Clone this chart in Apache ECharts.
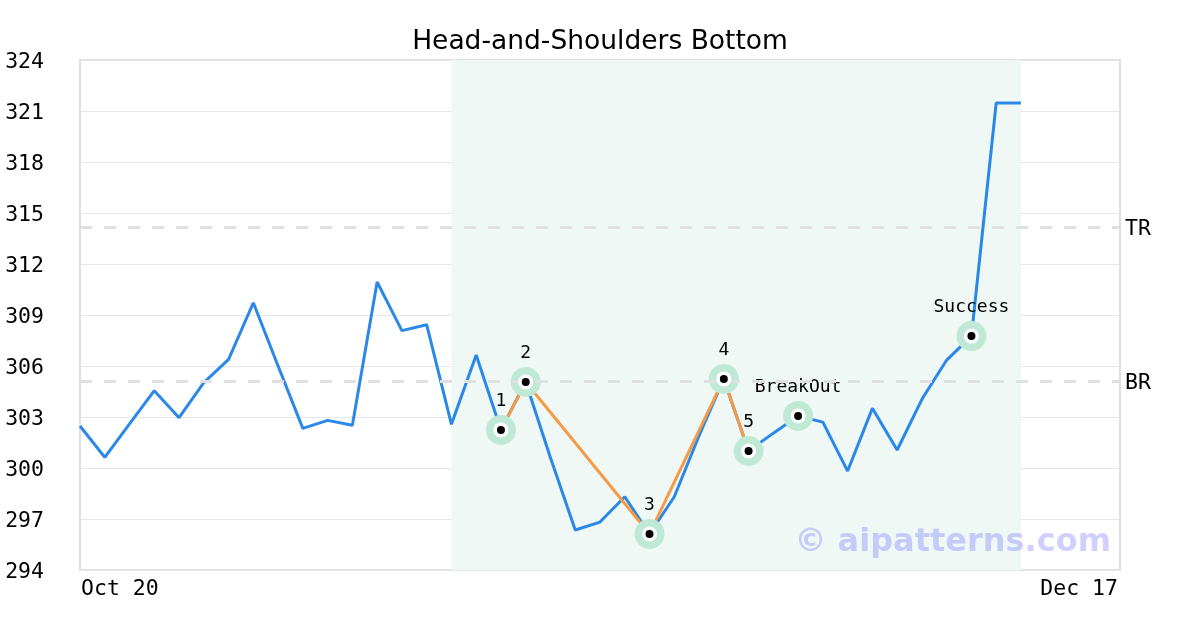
<!DOCTYPE html>
<html>
<head>
<meta charset="utf-8">
<script src="https://cdn.jsdelivr.net/npm/echarts@6/dist/echarts.min.js"></script>
<style>
html,body{margin:0;padding:0;background:#fff;}
#chart{width:1200px;height:630px;}
</style>
</head>
<body>
<div id="chart"></div>
<script>
// ---- data ----
var dates = ['Oct 20','Oct 21','Oct 22','Oct 23','Oct 24','Oct 27','Oct 28','Oct 29','Oct 30','Oct 31',
  'Nov 3','Nov 4','Nov 5','Nov 6','Nov 7','Nov 10','Nov 11','Nov 12','Nov 13','Nov 14',
  'Nov 17','Nov 18','Nov 19','Nov 20','Nov 21','Nov 24','Nov 25','Nov 26','Nov 27','Nov 28',
  'Dec 1','Dec 2','Dec 3','Dec 4','Dec 5','Dec 8','Dec 9','Dec 10','Dec 11','Dec 12',
  'Dec 15','Dec 16','Dec 17'];
var closes = [302.47, 300.63, 302.6, 304.55, 302.96, 305.02, 306.39, 309.72, 306.0, 302.33,
  302.8, 302.51, 310.94, 308.08, 308.43, 302.57, 306.65, 302.24, 305.06, 300.6,
  296.35, 296.82, 298.31, 296.12, 298.31, 301.9, 305.24, 301.0, 302.05, 303.06,
  302.7, 299.82, 303.51, 301.06, 304.04, 306.35, 307.76, 321.47, 321.47];
var patternIdx = [17, 18, 23, 26, 27];
var markerIdx = [17, 18, 23, 26, 27, 29, 36];
var markerLabels = ['1', '2', '3', '4', '5', 'BreakOut', 'Success'];
var shadeStart = 15, shadeEnd = 38;
var levelTR = 314.15, levelBR = 305.1;
var yTicks = {min: 294, max: 324, interval: 3};
var titleText = 'Head-and-Shoulders Bottom';
var watermark = '\u00a9 aipatterns.com';

// ---- build ----
var patternData = patternIdx.map(function (i) { return [i, closes[i]]; });
var markerData = markerIdx.map(function (i, k) { return {value: [i, closes[i]], name: markerLabels[k]}; });
var mono = '"DejaVu Sans Mono", monospace';
var sans = '"DejaVu Sans", sans-serif';
var lastIdx = dates.length - 1;

var chart = echarts.init(document.getElementById('chart'), null, {renderer: 'canvas'});
chart.setOption({
  animation: false,
  backgroundColor: '#fff',
  title: {
    text: titleText, left: 'center', top: 24,
    textStyle: {fontFamily: sans, fontSize: 26.5, fontWeight: 'normal', color: '#000'}
  },
  grid: {left: 80, right: 80, top: 60, bottom: 60, show: true, borderColor: '#e0e0e0', borderWidth: 2, backgroundColor: 'transparent'},
  xAxis: {
    type: 'category', data: dates, boundaryGap: false,
    axisLine: {show: false}, axisTick: {show: false},
    splitLine: {show: false},
    axisLabel: {
      interval: function (i) { return i === 0 || i === lastIdx; },
      alignMinLabel: 'left', alignMaxLabel: 'right',
      fontFamily: mono, fontSize: 21.5, color: '#000', margin: 8,
      padding: [0, 2, 0, 1]
    }
  },
  yAxis: {
    type: 'value', min: yTicks.min, max: yTicks.max, interval: yTicks.interval,
    axisLine: {show: false}, axisTick: {show: false},
    splitLine: {show: true, lineStyle: {color: '#e6e6e6', width: 1}},
    axisLabel: {
      margin: 36, align: 'right',
      formatter: function (v) { return '{v|' + v + '}'; },
      rich: {v: {fontFamily: mono, fontSize: 21.5, color: '#000', padding: [5, 0, 0, 0]}}
    }
  },
  graphic: [{
    type: 'text', z: 100, silent: true,
    style: {x: 1111, y: 543, text: watermark, textAlign: 'right', textVerticalAlign: 'middle',
      font: 'bold 32px "DejaVu Sans", sans-serif', fill: 'rgba(100,100,255,0.3)'}
  }],
  series: [
    {
      type: 'line', data: closes, symbol: 'none', z: 2,
      lineStyle: {color: '#2a88e8', width: 3},
      markArea: {
        silent: true,
        itemStyle: {color: '#eff8f5'},
        data: [[{xAxis: shadeStart}, {xAxis: shadeEnd}]]
      },
      markLine: {
        silent: true, symbol: 'none',
        lineStyle: {color: '#e0e0e0', width: 3, type: [12, 12]},
        label: {position: 'end', distance: 5, fontFamily: mono, fontSize: 21.5, color: '#000',
          offset: [0, 2],
          formatter: function (p) { return p.name; }},
        data: [{yAxis: levelTR, name: 'TR'}, {yAxis: levelBR, name: 'BR'}]
      }
    },
    {
      type: 'line', data: patternData, symbol: 'none', z: 3,
      lineStyle: {color: '#f59a45', width: 3}
    },
    {
      type: 'scatter', data: markerData, symbolSize: 30, z: 4,
      itemStyle: {color: '#bfe9d5', opacity: 1},
      label: {show: true, position: 'top', distance: 5, fontFamily: mono, fontSize: 18, color: '#000',
        formatter: function (p) { return p.name; }}
    },
    {
      type: 'scatter', data: markerData, symbolSize: 15, z: 5,
      itemStyle: {color: '#fff', opacity: 1}
    },
    {
      type: 'scatter', data: markerData, symbolSize: 8, z: 6,
      itemStyle: {color: '#000', opacity: 1}
    }
  ]
});
</script>
</body>
</html>
